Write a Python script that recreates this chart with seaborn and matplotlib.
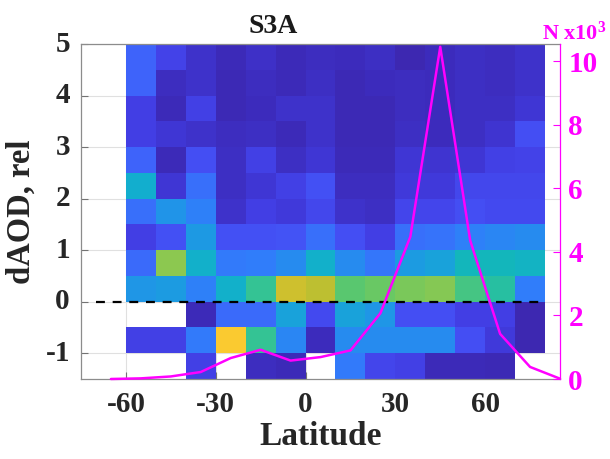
import numpy as np
import pandas as pd
import matplotlib
matplotlib.use("Agg")
import matplotlib.pyplot as plt
from matplotlib.colors import LinearSegmentedColormap
import seaborn as sns

# ---------------- data ----------------
# latitude bins (lower edges) of the heatmap columns
lat_bins = [-60, -50, -40, -30, -20, -10, 0, 10, 20, 30, 40, 50, 60, 70]
# dAOD bins (upper edges), from top row to bottom row
daod_bins = [5.0, 4.5, 4.0, 3.5, 3.0, 2.5, 2.0, 1.5, 1.0, 0.5, 0.0, -0.5, -1.0]
nan = np.nan
# relative frequency (colour scale 0..1), rows top -> bottom
r_45_50 = [0.30, 0.17, 0.10, 0.05, 0.09, 0.05, 0.07, 0.06, 0.08, 0.03, 0.06, 0.08, 0.07, 0.10]
r_40_45 = [0.30, 0.07, 0.10, 0.04, 0.07, 0.05, 0.08, 0.04, 0.06, 0.07, 0.06, 0.08, 0.07, 0.10]
r_35_40 = [0.15, 0.05, 0.16, 0.04, 0.06, 0.10, 0.10, 0.04, 0.04, 0.07, 0.06, 0.08, 0.08, 0.12]
r_30_35 = [0.15, 0.12, 0.10, 0.07, 0.08, 0.05, 0.10, 0.04, 0.04, 0.08, 0.06, 0.08, 0.11, 0.22]
r_25_30 = [0.30, 0.05, 0.22, 0.08, 0.16, 0.08, 0.12, 0.05, 0.05, 0.12, 0.11, 0.12, 0.16, 0.17]
r_20_25 = [0.55, 0.12, 0.33, 0.08, 0.12, 0.16, 0.23, 0.07, 0.07, 0.13, 0.13, 0.19, 0.19, 0.19]
r_15_20 = [0.33, 0.45, 0.38, 0.10, 0.15, 0.13, 0.19, 0.10, 0.08, 0.18, 0.18, 0.22, 0.20, 0.20]
r_10_15 = [0.15, 0.23, 0.47, 0.23, 0.23, 0.24, 0.33, 0.22, 0.15, 0.33, 0.34, 0.38, 0.40, 0.42]
r_05_10 = [0.32, 0.80, 0.56, 0.36, 0.37, 0.42, 0.56, 0.42, 0.35, 0.48, 0.50, 0.60, 0.60, 0.58]
r_00_05 = [0.46, 0.48, 0.38, 0.56, 0.68, 0.88, 0.86, 0.74, 0.76, 0.78, 0.79, 0.71, 0.66, 0.37]
r_m05_0 = [nan, nan, 0.05, 0.32, 0.32, 0.50, 0.20, 0.50, 0.46, 0.22, 0.22, 0.15, 0.15, 0.03]
r_m10_m05 = [0.16, 0.16, 0.36, 0.93, 0.68, 0.40, 0.06, 0.42, 0.42, 0.42, 0.42, 0.22, 0.13, 0.03]
r_m15_m10 = [nan, nan, 0.16, nan, 0.07, 0.05, nan, 0.36, 0.18, 0.16, 0.05, 0.05, 0.04, nan]

# number of retrievals (x10^3) per latitude bin centre
n_lat = [-65, -55, -45, -35, -25, -15, -5, 5, 15, 25, 35, 45, 55, 65, 75, 85]
n_val = [0.0, 0.02, 0.08, 0.22, 0.66, 0.92, 0.58, 0.69, 0.90, 2.07, 4.48, 10.46, 4.36, 1.42, 0.38, 0.01]

x_ticks = [-60, -30, 0, 30, 60]
y_ticks = [-1, 0, 1, 2, 3, 4, 5]
n_ticks = [0, 2, 4, 6, 8, 10]

# ---------------- style ----------------
sns.set_theme(style="white")
plt.rcParams["font.family"] = ["Liberation Serif", "DejaVu Serif"]
plt.rcParams["font.weight"] = "bold"
plt.rcParams["axes.labelweight"] = "bold"
plt.rcParams["mathtext.fontset"] = "custom"
plt.rcParams["mathtext.rm"] = "Liberation Serif:bold"
plt.rcParams["mathtext.it"] = "Liberation Serif:bold"
plt.rcParams["mathtext.bf"] = "Liberation Serif:bold"

parula_like = LinearSegmentedColormap.from_list("parula_like", [
    (0.00, (62/255, 38/255, 168/255)),
    (0.05, (60/255, 42/255, 185/255)),
    (0.10, (62/255, 50/255, 203/255)),
    (0.15, (66/255, 62/255, 228/255)),
    (0.22, (68/255, 78/255, 243/255)),
    (0.30, (62/255, 100/255, 250/255)),
    (0.37, (48/255, 125/255, 250/255)),
    (0.45, (32/255, 148/255, 232/255)),
    (0.55, (18/255, 174/255, 206/255)),
    (0.62, (20/255, 185/255, 180/255)),
    (0.68, (50/255, 195/255, 150/255)),
    (0.75, (95/255, 200/255, 105/255)),
    (0.80, (140/255, 200/255, 80/255)),
    (0.87, (195/255, 190/255, 45/255)),
    (0.93, (250/255, 200/255, 50/255)),
    (1.00, (249/255, 251/255, 14/255)),
])

rows = [r_45_50, r_40_45, r_35_40, r_30_35, r_25_30, r_20_25, r_15_20,
        r_10_15, r_05_10, r_00_05, r_m05_0, r_m10_m05, r_m15_m10]
df = pd.DataFrame(rows, index=daod_bins, columns=lat_bins)

lat_step = lat_bins[1] - lat_bins[0]
daod_step = daod_bins[0] - daod_bins[1]


def lat_to_idx(lat):
    return (np.asarray(lat, dtype=float) - lat_bins[0]) / lat_step


def daod_to_idx(v):
    return (daod_bins[0] - np.asarray(v, dtype=float)) / daod_step


fig = plt.figure(figsize=(6.10, 4.59), dpi=100)
ax = fig.add_axes([81/610, 1 - 379/459, (560-81)/610, (379-44)/459])

sns.heatmap(df, ax=ax, cmap=parula_like, vmin=0, vmax=1, cbar=False,
            linewidths=0, square=False)

ax.set_xlim(lat_to_idx(-75), lat_to_idx(85))
ax.set_ylim(daod_to_idx(-1.5), daod_to_idx(5))

ax.set_xticks(lat_to_idx(x_ticks))
ax.set_xticklabels([str(t) for t in x_ticks], rotation=0)
ax.set_yticks(daod_to_idx(y_ticks))
ax.set_yticklabels([str(t) for t in y_ticks], rotation=0)

for s in ax.spines.values():
    s.set_visible(True)
    s.set_color("0.55")
    s.set_linewidth(0.9)
ax.spines["right"].set_visible(False)

ax.grid(True, color="0.88", linewidth=0.8)
ax.set_axisbelow(True)
ax.tick_params(axis="both", direction="in", length=5, width=0.8, color="0.45",
               labelsize=21, labelcolor="#262626", left=True, bottom=True)
ax.tick_params(axis="x", pad=9)
ax.tick_params(axis="y", pad=8)

# zero reference line
ax.hlines(daod_to_idx(0), lat_to_idx(-70), lat_to_idx(80), colors="black",
          linestyles=(0, (4, 3.5)), linewidth=1.6, zorder=3)

ax.set_xlabel("Latitude", fontsize=24, fontweight="bold", color="#262626", labelpad=2)
ax.set_ylabel("dAOD, rel", fontsize=23.5, fontweight="bold", color="#262626", labelpad=6)

# second axis: counts
ax2 = ax.twinx()
sns.lineplot(x=lat_to_idx(n_lat), y=n_val, ax=ax2, color="#ff00ff",
             linewidth=1.8, clip_on=False)
ax2.set_ylim(0, 10.55)
ax2.set_yticks(n_ticks)
ax2.set_yticklabels([str(t) for t in n_ticks])
ax2.tick_params(axis="y", direction="in", length=5, width=0.8, colors="#ff00ff",
                labelsize=21, pad=6, right=True)
ax2.grid(False)
for k, s in ax2.spines.items():
    s.set_visible(k == "right")
ax2.spines["right"].set_color("#ff00ff")
ax2.spines["right"].set_linewidth(0.9)

fig.text(273/610, 1 - 33/459, "S3A", ha="center", va="baseline",
         fontsize=20, fontweight="bold", color="#1a1a1a")
fig.text(574/610, 1 - 40/459, r"N x10$^3$", ha="center", va="baseline",
         fontsize=16, fontweight="bold", color="#ff00ff")

fig.savefig("out.png", dpi=100)
